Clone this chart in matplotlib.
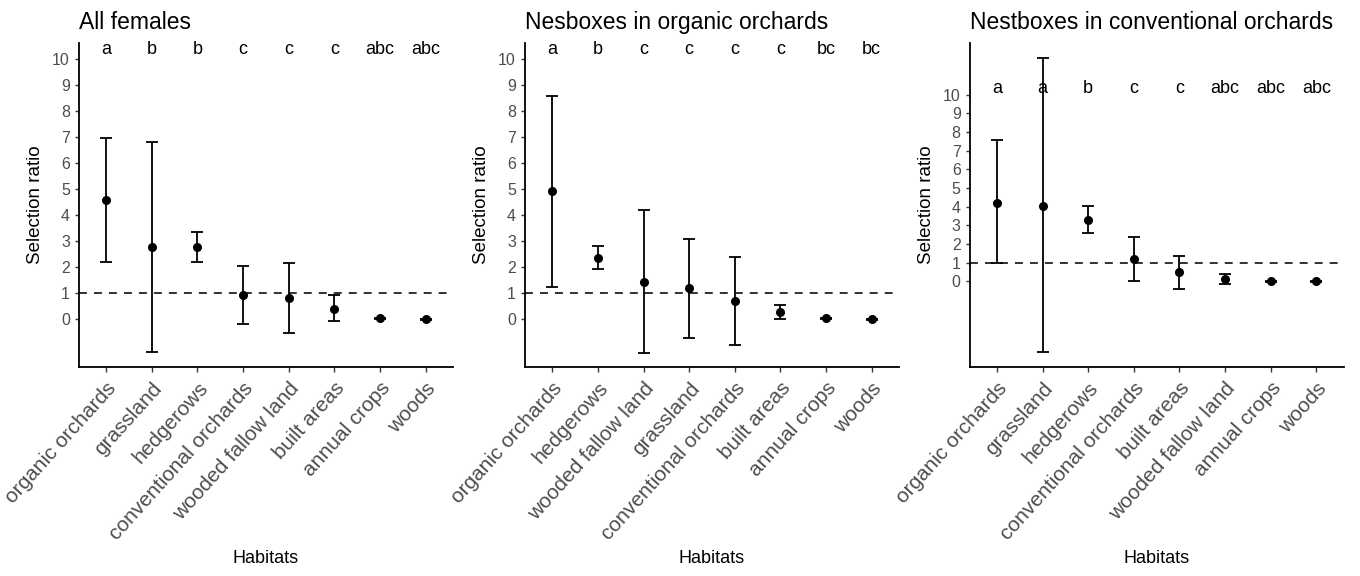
import matplotlib
matplotlib.use("Agg")
import matplotlib.pyplot as plt

plt.rcParams["font.family"] = ["Liberation Sans", "DejaVu Sans"]

# Panel 1: all females
hab_all = ["organic orchards", "grassland", "hedgerows", "conventional orchards",
           "wooded fallow land", "built areas", "annual crops", "woods"]
sr_all = [4.59, 2.77, 2.77, 0.92, 0.82, 0.41, 0.03, 0.0]
lo_all = [2.20, -1.25, 2.19, -0.19, -0.51, -0.08, 0.0, -0.02]
hi_all = [6.97, 6.81, 3.35, 2.05, 2.14, 0.92, 0.06, 0.02]
grp_all = ["a", "b", "b", "c", "c", "c", "abc", "abc"]

# Panel 2: nestboxes in organic orchards
hab_org = ["organic orchards", "hedgerows", "wooded fallow land", "grassland",
           "conventional orchards", "built areas", "annual crops", "woods"]
sr_org = [4.92, 2.35, 1.44, 1.19, 0.69, 0.28, 0.03, 0.0]
lo_org = [1.25, 1.91, -1.30, -0.73, -0.99, 0.02, 0.0, -0.02]
hi_org = [8.56, 2.79, 4.18, 3.09, 2.38, 0.53, 0.06, 0.02]
grp_org = ["a", "b", "c", "c", "c", "c", "bc", "bc"]

# Panel 3: nestboxes in conventional orchards
hab_conv = ["organic orchards", "grassland", "hedgerows", "conventional orchards",
            "built areas", "wooded fallow land", "annual crops", "woods"]
sr_conv = [4.22, 4.06, 3.31, 1.19, 0.50, 0.16, 0.0, 0.0]
lo_conv = [0.98, -3.78, 2.58, 0.02, -0.39, -0.11, -0.03, -0.03]
hi_conv = [7.59, 11.96, 4.03, 2.37, 1.39, 0.39, 0.03, 0.03]
grp_conv = ["a", "a", "b", "c", "c", "abc", "abc", "abc"]

panels = [
    ("All females", hab_all, sr_all, lo_all, hi_all, grp_all, (-1.83, 10.59)),
    ("Nesboxes in organic orchards", hab_org, sr_org, lo_org, hi_org, grp_org, (-1.83, 10.59)),
    ("Nestboxes in conventional orchards", hab_conv, sr_conv, lo_conv, hi_conv, grp_conv, (-4.57, 12.75)),
]

fig = plt.figure(figsize=(13.6, 5.76), dpi=100)
lefts = [0.058, 0.386, 0.713]
grey = "#4D4D4D"

for left, (title, hab, sr, lo, hi, grp, ylim) in zip(lefts, panels):
    ax = fig.add_axes([left, 0.363, 0.275, 0.562])
    x = list(range(len(hab)))
    yerr = [[s - l for s, l in zip(sr, lo)], [h - s for s, h in zip(sr, hi)]]
    ax.errorbar(x, sr, yerr=yerr, fmt="o", color="black", ms=5.5,
                elinewidth=1.3, capsize=4, capthick=1.3, zorder=3)
    ax.axhline(1, color="#222222", lw=1.3, ls=(0, (4.4, 3.9)), zorder=2)
    for xi, g in zip(x, grp):
        ax.text(xi, 10.35, g, ha="center", va="center", fontsize=13, color="black")

    ax.set_xlim(-0.6, 7.6)
    ax.set_ylim(*ylim)
    ax.set_yticks(range(0, 11))
    ax.set_xticks(x)
    ax.set_xticklabels(hab, rotation=48, ha="right", va="top",
                       rotation_mode="anchor", fontsize=15, color=grey)
    ax.tick_params(axis="y", labelsize=11.5, labelcolor=grey, length=3, width=1, color="#333333")
    ax.tick_params(axis="x", length=3.5, width=1, color="#333333", pad=5)
    for side in ("top", "right"):
        ax.spines[side].set_visible(False)
    for side in ("left", "bottom"):
        ax.spines[side].set_linewidth(1.3)
    ax.set_ylabel("Selection ratio", fontsize=13.5, labelpad=6)
    ax.set_xlabel("Habitats", fontsize=13)
    ax.xaxis.set_label_coords(0.5, -0.565)
    ax.set_title(title, loc="left", fontsize=16.5, pad=10)

fig.savefig("out.png", dpi=100)
